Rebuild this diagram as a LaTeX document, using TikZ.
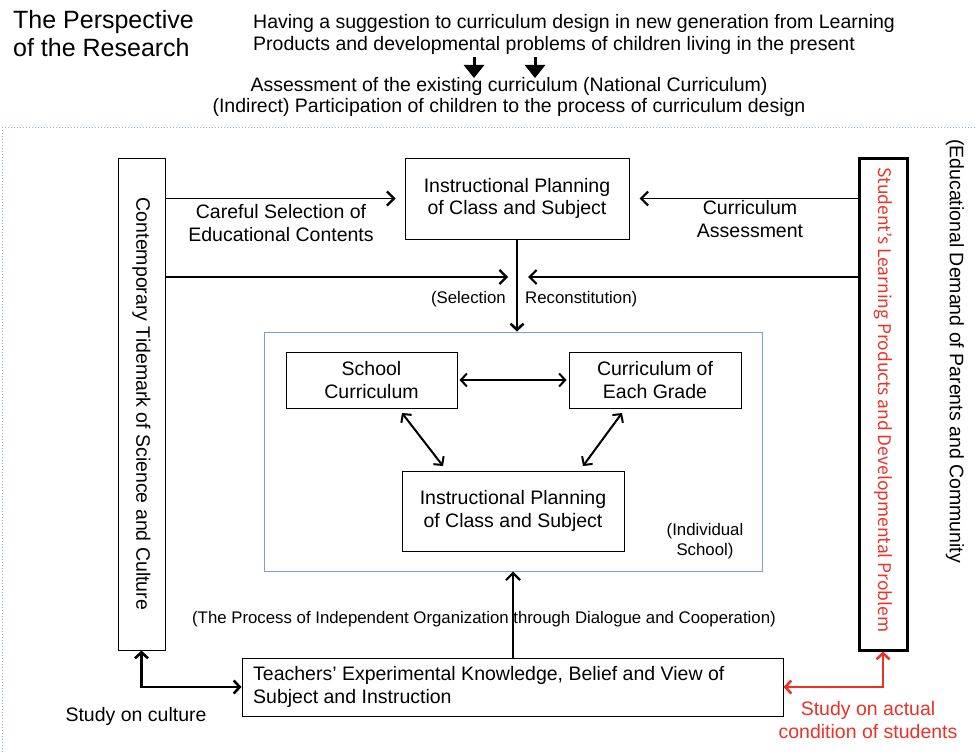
\documentclass[tikz,border=0pt]{standalone}
\usepackage{fontspec}
\setmainfont{Liberation Sans}
\newfontfamily\jpfont{Noto Sans CJK JP}
\usetikzlibrary{arrows.meta}
\definecolor{sepblue}{RGB}{140,175,215}
\definecolor{schoolblue}{RGB}{120,160,210}
\definecolor{studred}{RGB}{235,50,40}
\tikzset{
  body/.style={font=\fontsize{19.5}{22.5}\selectfont},
  small/.style={font=\fontsize{16.8}{20}\selectfont},
  plainbox/.style={draw, line width=1pt, body, align=center, inner sep=0pt},
  link/.style={line width=1.3pt, -{Straight Barb[length=7pt,width=14pt,line width=2.2pt]}},
  biglink/.style={line width=2.6pt, {Straight Barb[length=6pt,width=13pt]}-{Straight Barb[length=6pt,width=13pt]}},
  bothlink/.style={line width=2pt, {Straight Barb[length=6pt,width=13pt]}-{Straight Barb[length=6pt,width=13pt]}},
  downarrow/.style={line width=3pt, -{Triangle[length=13pt,width=20pt]}},
}
\begin{document}
\begin{tikzpicture}[x=1pt,y=-1pt]
\useasboundingbox (0,0) rectangle (975,752);

% heading and research perspective
\node[anchor=north west, align=left, font=\fontsize{25}{28}\selectfont, inner sep=0pt] (title) at (13,10) {The Perspective\\of the Research};
\node[anchor=north west, align=left, body, inner sep=0pt] (aim) at (253,14) {Having a suggestion to curriculum design in new generation from Learning\\Products and developmental problems of children living in the present};
\node[body, inner sep=0pt] (assess) at (509,86) {Assessment of the existing curriculum (National Curriculum)};
\node[body, inner sep=0pt] (partic) at (509,107) {(Indirect) Participation of children to the process of curriculum design};
\coordinate (a1s) at (474,57); \coordinate (a1e) at (474,78);
\coordinate (a2s) at (535,57); \coordinate (a2e) at (535,78);
\draw[downarrow] (a1s) -- (a1e);
\draw[downarrow] (a2s) -- (a2e);

% separators
\coordinate (sepL) at (2,127); \coordinate (sepR) at (975,127); \coordinate (sepB) at (2,752);
\draw[sepblue, line width=1pt, dotted] (sepL) -- (sepR);
\draw[sepblue, line width=1pt, dotted] (sepL) -- (sepB);

% side columns
\node[draw, line width=1pt, minimum width=47, minimum height=492, inner sep=0pt] (lbox) at (141.5,404) {};
\node[rotate=-90, body] (ltext) at (lbox.center) {Contemporary Tidemark of Science and Culture};
\node[draw, line width=3pt, minimum width=48, minimum height=492, inner sep=0pt] (rbox) at (883,404) {};
\node[rotate=-90, text=studred, font=\jpfont\fontsize{17.4}{20}\selectfont] (rtext) at (883,400) {Student’s Learning Products and Developmental Problem};
\node[rotate=-90, body, anchor=west, inner sep=0pt] (demand) at (955,139) {(Educational Demand of Parents and Community};

% planning at the top
\node[plainbox, minimum width=224, minimum height=81] (ip) at (517,198.5) {Instructional Planning\\of Class and Subject};
\draw[link, shorten >=9pt] (lbox.east |- ip.west) -- (ip.west);
\draw[link, shorten >=10pt] (rbox.west |- ip.east) -- (ip.east);
\node[body, align=center] (careful) at (281,223) {Careful Selection of\\Educational Contents};
\node[body, align=center] (currass) at (750,219) {Curriculum\\Assessment};

\coordinate (selL) at (508,277);
\coordinate (selR) at (528,277);
\draw[link] (lbox.east |- selL) -- (selL);
\draw[link] (rbox.west |- selR) -- (selR);

% individual school
\node[draw=schoolblue, line width=1pt, minimum width=498, minimum height=239, inner sep=0pt] (school) at (513,451.5) {};
\draw[line width=2.6pt, -{Straight Barb[length=6pt,width=13pt]}] (ip.south) -- (ip.south |- school.north);
\node[small, anchor=east, inner sep=0pt] (sel) at (506,299) {(Selection};
\node[small, anchor=west, inner sep=0pt] (recon) at (525,299) {Reconstitution)};

\node[plainbox, minimum width=171, minimum height=56] (sc) at (371.5,380) {School\\Curriculum};
\node[plainbox, minimum width=172, minimum height=56] (cg) at (655,380) {Curriculum of\\Each Grade};
\node[plainbox, minimum width=222, minimum height=80] (ip2) at (513,511) {Instructional Planning\\of Class and Subject};
\draw[bothlink, shorten <=2pt, shorten >=2pt] (sc.east) -- (cg.west);
\coordinate (d1a) at (402,413); \coordinate (d1b) at (443,466);
\coordinate (d2a) at (622,413); \coordinate (d2b) at (583,466);
\draw[bothlink] (d1a) -- (d1b);
\draw[bothlink] (d2a) -- (d2b);
\node[small, align=center] (indiv) at (705,541) {(Individual\\School)};

% teachers' knowledge at the bottom
\node[draw, line width=1pt, minimum width=541, minimum height=58, inner sep=0pt] (teach) at (512.5,687) {};
\node[body, anchor=west, align=left, inner sep=0pt] (teachtext) at (253,687) {Teachers’ Experimental Knowledge, Belief and View of\\Subject and Instruction};
\node[small, inner sep=0pt] (process) at (484,619) {(The Process of Independent Organization through Dialogue and Cooperation)};
\draw[link, line width=1.2pt] (teach.north -| 513,0) -- (school.south -| 513,0);

\draw[biglink] (lbox.south) |- (teach.west);
\node[body] (culture) at (136,716) {Study on culture};
\draw[biglink, studred] (teach.east) -| (rbox.south);
\node[body, text=studred, align=center] (actual) at (868,720) {Study on actual\\condition of students};
\end{tikzpicture}
\end{document}
